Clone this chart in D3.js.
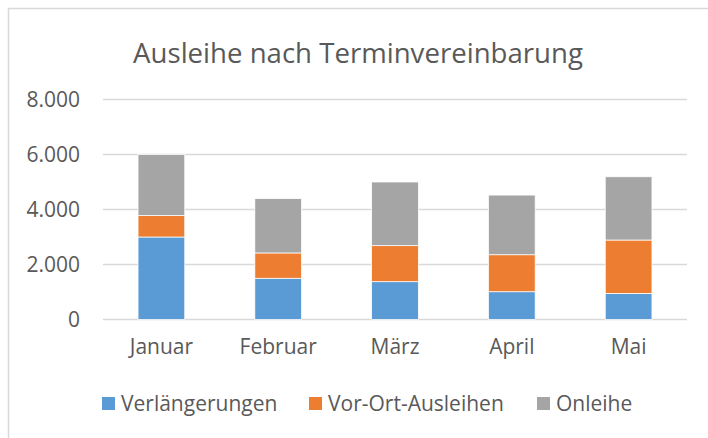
<!DOCTYPE html>
<html>
<head>
<meta charset="utf-8">
<script src="https://cdn.jsdelivr.net/npm/d3@7"></script>
<style>
  body { margin: 0; background: #fff; }
  svg text { font-family: "Open Sans", sans-serif; fill: #595959; }
</style>
</head>
<body>
<svg id="chart" width="708" height="438"></svg>
<script>
var months = ['Januar', 'Februar', 'März', 'April', 'Mai'];
var seriesNames = ['Verlängerungen', 'Vor-Ort-Ausleihen', 'Onleihe'];
var verlaengerungen = [3000, 1500, 1375, 1010, 950];
var vorOrt = [780, 920, 1310, 1345, 1940];
var onleihe = [2220, 1975, 2315, 2170, 2300];
var yTicks = [0, 2000, 4000, 6000, 8000];
var colors = ['#5B9BD5', '#ED7D31', '#A5A5A5'];

var svg = d3.select('#chart');

// chart frame (only top/left edges visible in the window)
svg.append('rect')
    .attr('x', 8.5).attr('y', 8.5)
    .attr('width', 720).attr('height', 450)
    .attr('fill', '#fff')
    .attr('stroke', '#D9D9D9')
    .attr('stroke-width', 1.5);

svg.append('text')
    .attr('x', 358).attr('y', 63)
    .attr('text-anchor', 'middle')
    .style('font-size', '27.6px')
    .text('Ausleihe nach Terminvereinbarung');

var x = d3.scaleBand().domain(months).range([103, 687]).paddingInner(0.6).paddingOuter(0.3);
var y = d3.scaleLinear().domain([0, 8000]).range([319.5, 99.5]);

var fmt = function (d) { return d === 0 ? '0' : d3.format(',')(d).replace(/,/g, '.'); };

// gridlines
svg.append('g').selectAll('line')
    .data(yTicks)
    .enter().append('line')
    .attr('x1', 103).attr('x2', 687)
    .attr('y1', function (d) { return y(d); })
    .attr('y2', function (d) { return y(d); })
    .attr('stroke', '#D9D9D9')
    .attr('stroke-width', 1.5);

// y axis labels
var yAxis = svg.append('g')
    .attr('transform', 'translate(80,0)')
    .call(d3.axisLeft(y).tickValues(yTicks).tickFormat(fmt).tickSize(0).tickPadding(0));
yAxis.select('.domain').remove();
yAxis.selectAll('text').style('font-size', '21px').attr('fill', '#595959');

// stacked bars
var rows = months.map(function (m, i) {
    return { month: m, s0: verlaengerungen[i], s1: vorOrt[i], s2: onleihe[i] };
});
var stack = d3.stack().keys(['s0', 's1', 's2'])(rows);

svg.append('g').selectAll('g')
    .data(stack)
    .enter().append('g')
    .attr('fill', function (d, i) { return colors[i]; })
    .selectAll('rect')
    .data(function (d) { return d; })
    .enter().append('rect')
    .attr('x', function (d) { return x(d.data.month); })
    .attr('width', x.bandwidth())
    .attr('y', function (d) { return y(d[1]); })
    .attr('height', function (d) { return y(d[0]) - y(d[1]); })
    .attr('stroke', '#fff')
    .attr('stroke-width', 0.75);

// x axis labels
var xAxis = svg.append('g')
    .attr('transform', 'translate(0,' + 319.5 + ')')
    .call(d3.axisBottom(x).tickSize(0).tickPadding(20));
xAxis.select('.domain').remove();
xAxis.selectAll('text').style('font-size', '21px').attr('fill', '#595959');

// legend
var legendX = [102, 309, 537];
var legend = svg.append('g').selectAll('g')
    .data(seriesNames)
    .enter().append('g')
    .attr('transform', function (d, i) { return 'translate(' + legendX[i] + ',397)'; });
legend.append('rect')
    .attr('width', 13).attr('height', 13)
    .attr('fill', function (d, i) { return colors[i]; });
legend.append('text')
    .attr('x', 19).attr('y', 14)
    .style('font-size', '21px')
    .text(function (d) { return d; });
</script>
</body>
</html>
